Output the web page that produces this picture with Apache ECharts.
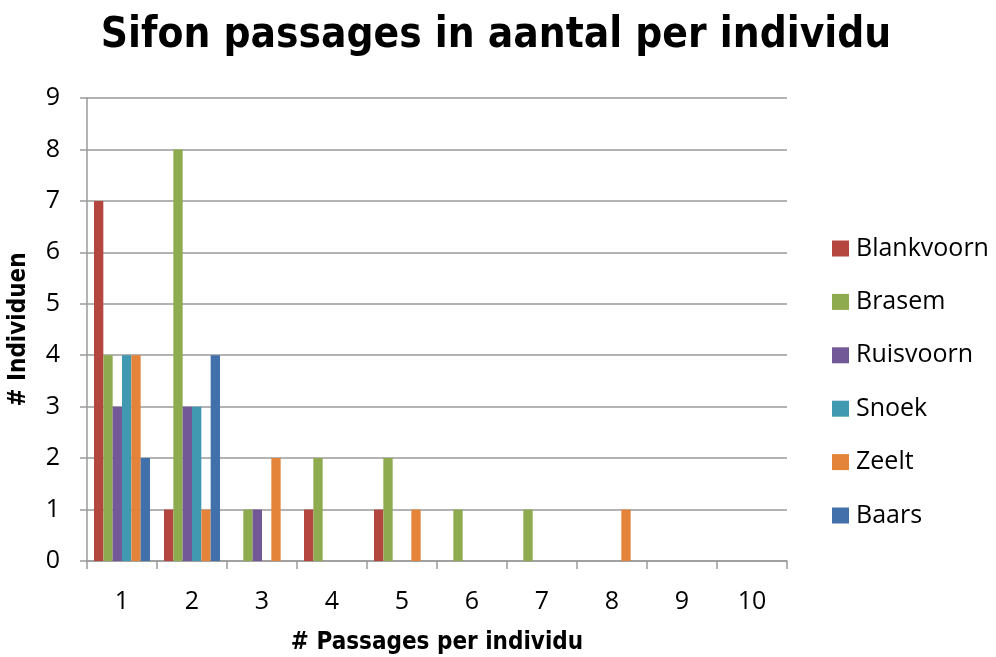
<!DOCTYPE html>
<html>
<head>
<meta charset="utf-8">
<script src="https://cdn.jsdelivr.net/npm/echarts@6/dist/echarts.min.js"></script>
<style>
  html, body { margin: 0; padding: 0; background: #ffffff; }
  #chart { width: 996px; height: 657px; }
</style>
</head>
<body>
<div id="chart"></div>
<script>
// Number of siphon passages per individual fish (categories 1..10)
const categories = ['1', '2', '3', '4', '5', '6', '7', '8', '9', '10'];
const yTicks = [0, 1, 2, 3, 4, 5, 6, 7, 8, 9];

// Count of individuals per species
const blankvoorn = [7, 1, 0, 1, 1, 0, 0, 0, 0, 0];
const brasem     = [4, 8, 1, 2, 2, 1, 1, 0, 0, 0];
const ruisvoorn  = [3, 3, 1, 0, 0, 0, 0, 0, 0, 0];
const snoek      = [4, 3, 0, 0, 0, 0, 0, 0, 0, 0];
const zeelt      = [4, 1, 2, 0, 1, 0, 0, 1, 0, 0];
const baars      = [2, 4, 0, 0, 0, 0, 0, 0, 0, 0];

const seriesNames = ['Blankvoorn', 'Brasem', 'Ruisvoorn', 'Snoek', 'Zeelt', 'Baars'];
const seriesData = [blankvoorn, brasem, ruisvoorn, snoek, zeelt, baars];
const colors = ['#B4463F', '#8EAB4F', '#725897', '#4099B0', '#E4843A', '#4170AB'];

const labelFont = "'Open Sans', 'Noto Sans', sans-serif";
const titleFont = "'Liberation Sans Narrow', 'DejaVu Sans Condensed', 'Open Sans', sans-serif";

const chart = echarts.init(document.getElementById('chart'), null, { renderer: 'canvas' });

chart.setOption({
  animation: false,
  backgroundColor: '#ffffff',
  color: colors,
  title: {
    text: 'Sifon passages in aantal per individu',
    left: 491,
    top: 10,
    textAlign: 'center',
    textStyle: {
      fontFamily: titleFont,
      fontWeight: 'bold',
      fontSize: 42,
      color: '#000000'
    }
  },
  legend: {
    orient: 'vertical',
    left: 832,
    top: 236,
    padding: 0,
    itemWidth: 17,
    itemHeight: 16,
    itemGap: 28.4,
    icon: 'rect',
    data: seriesNames,
    textStyle: {
      fontFamily: labelFont,
      fontSize: 25,
      lineHeight: 25,
      color: '#000000',
      padding: [0, 0, 0, 2]
    }
  },
  grid: {
    left: 87,
    right: 209,
    top: 98,
    bottom: 96,
    containLabel: false,
    outerBoundsMode: 'none'
  },
  xAxis: {
    type: 'category',
    data: categories,
    name: '# Passages per individu',
    nameLocation: 'middle',
    nameGap: 70,
    nameTextStyle: {
      fontFamily: titleFont,
      fontWeight: 'bold',
      fontSize: 24,
      color: '#000000'
    },
    axisLine: { show: true, lineStyle: { color: '#9A9A9A', width: 1.5 } },
    axisTick: { show: true, length: 8, alignWithLabel: false, lineStyle: { color: '#9A9A9A', width: 1.5 } },
    axisLabel: {
      margin: 28,
      fontFamily: labelFont,
      fontSize: 25,
      color: '#000000'
    },
    splitLine: { show: false }
  },
  yAxis: {
    type: 'value',
    min: yTicks[0],
    max: yTicks[yTicks.length - 1],
    interval: 1,
    name: '# Individuen',
    nameLocation: 'middle',
    nameGap: 56,
    nameRotate: 90,
    nameTextStyle: {
      fontFamily: titleFont,
      fontWeight: 'bold',
      fontSize: 24,
      color: '#000000'
    },
    axisLine: { show: true, lineStyle: { color: '#9A9A9A', width: 1.5 } },
    axisTick: { show: true, inside: false, length: 7, lineStyle: { color: '#9A9A9A', width: 1.5 } },
    axisLabel: {
      margin: 27,
      fontFamily: labelFont,
      fontSize: 25,
      color: '#000000'
    },
    splitLine: { show: true, lineStyle: { color: '#9A9A9A', width: 1.5 } }
  },
  series: seriesNames.map((name, i) => ({
    name: name,
    type: 'bar',
    data: seriesData[i],
    barGap: '0%',
    barCategoryGap: '20%',
    itemStyle: { color: colors[i] }
  }))
});
</script>
</body>
</html>
